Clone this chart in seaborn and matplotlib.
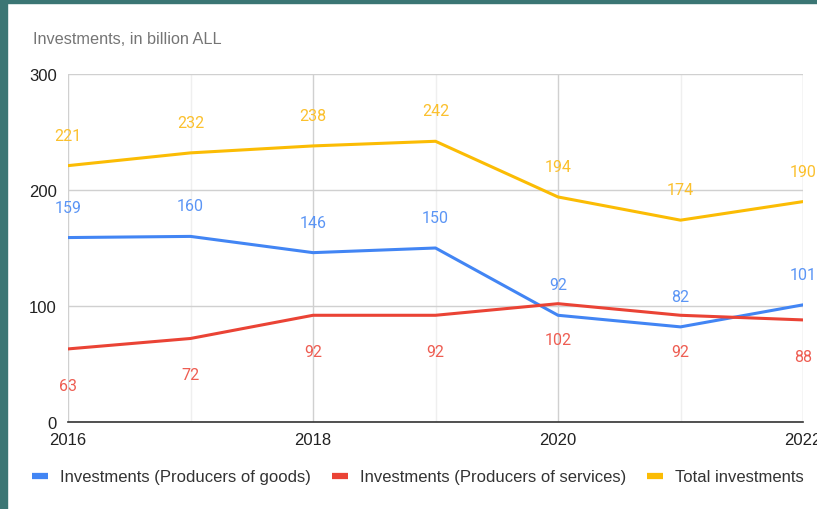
import matplotlib
matplotlib.use("Agg")
import matplotlib.pyplot as plt
import seaborn as sns
import pandas as pd
from matplotlib.patches import Rectangle
from matplotlib.lines import Line2D

years = [2016, 2017, 2018, 2019, 2020, 2021, 2022]
goods = [159, 160, 146, 150, 92, 82, 101]
services = [63, 72, 92, 92, 102, 92, 88]
total = [221, 232, 238, 242, 194, 174, 190]
series_names = ["Investments (Producers of goods)",
                "Investments (Producers of services)",
                "Total investments"]
colors = ["#4285F4", "#EA4335", "#FBBC04"]
label_colors = ["#5b95f5", "#ee5d52", "#fbc02d"]

df = pd.concat([
    pd.DataFrame({"Year": years, "Value": v, "Series": n})
    for v, n in zip([goods, services, total], series_names)
])

sns.set_theme(style="white")
plt.rcParams["font.family"] = ["Liberation Sans", "DejaVu Sans"]

W, H = 817, 510
fig = plt.figure(figsize=(W / 100, H / 100), dpi=100)
fig.patch.set_facecolor("white")
ax = fig.add_axes([68 / W, 87 / H, (803 - 68) / W, (423 - 75) / H])

# teal frame strips
fig.patches.append(Rectangle((0, 0), 7 / W, 1, transform=fig.transFigure,
                             color="#3b7674", zorder=-10))
fig.patches.append(Rectangle((0, 1 - 4 / H), 1, 4 / H, transform=fig.transFigure,
                             color="#3b7674", zorder=-10))

sns.lineplot(data=df, x="Year", y="Value", hue="Series", palette=colors,
             linewidth=2.2, ax=ax, legend=False, zorder=3)

ax.set_xlim(2016, 2022)
ax.set_ylim(0, 300)
ax.set_xticks([2016, 2018, 2020, 2022])
ax.set_xticks([2017, 2019, 2021], minor=True)
ax.set_yticks([0, 100, 200, 300])
ax.set_xlabel("")
ax.set_ylabel("")
ax.grid(True, which="major", color="#d0d0d0", linewidth=1)
ax.grid(True, which="minor", axis="x", color="#efefef", linewidth=1)
ax.set_axisbelow(True)
for s in ["top", "right", "left"]:
    ax.spines[s].set_visible(False)
ax.spines["bottom"].set_color("#333333")
ax.spines["bottom"].set_linewidth(1.2)
ax.tick_params(axis="both", which="both", length=0, labelsize=12, colors="#222222")
ax.tick_params(axis="x", pad=7)
ax.tick_params(axis="y", pad=8)

# data labels
for vals, lc, off in zip([goods, services, total], label_colors, [22, -26, 22]):
    for x, y in zip(years, vals):
        ax.annotate(str(y), (x, y), xytext=(0, off), textcoords="offset points",
                    ha="center", va="center", fontsize=11.5, color=lc,
                    family=["Roboto", "DejaVu Sans"],
                    annotation_clip=False, zorder=4)

fig.text(33 / W, 1 - 40 / H, "Investments, in billion ALL", fontsize=11.7,
         color="#757575", ha="left", va="center")

handles = [Line2D([0], [0], color=c, linewidth=4.5, solid_capstyle="butt") for c in colors]
fig.legend(handles, series_names, loc="center", bbox_to_anchor=(418 / W, 1 - 478 / H),
           ncol=3, frameon=False, fontsize=12, handlelength=0.96, handletextpad=0.72,
           columnspacing=1.26, labelcolor="#333333")

fig.savefig("out.png", dpi=100)
